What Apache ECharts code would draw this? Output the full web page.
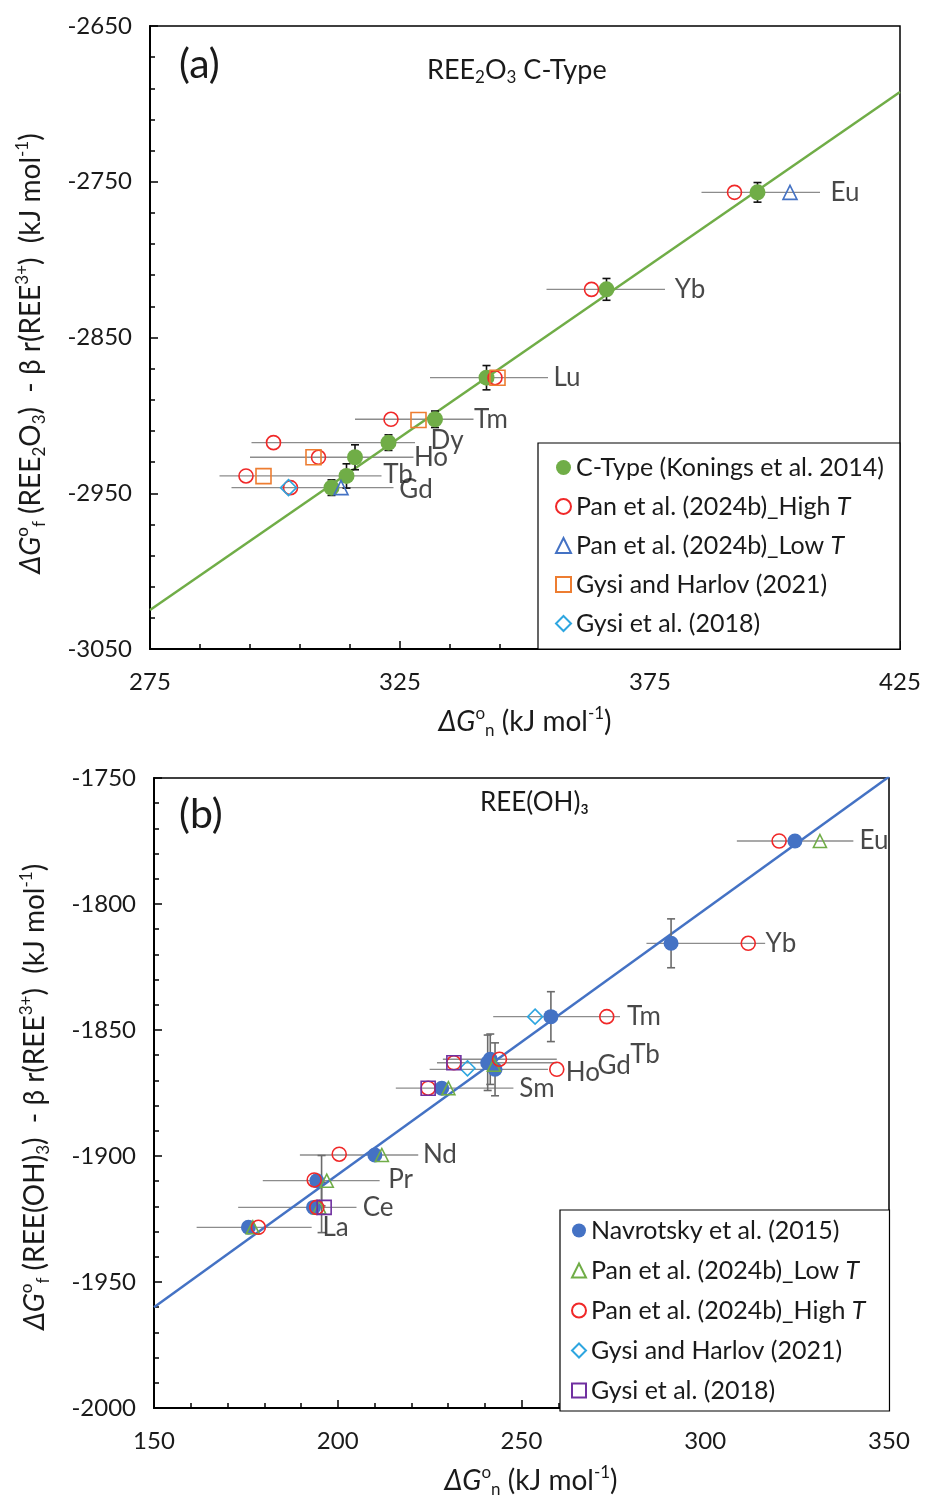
<!DOCTYPE html>
<html><head><meta charset="utf-8">
<script src="https://cdn.jsdelivr.net/npm/echarts@6/dist/echarts.min.js"></script>
<style>html,body{margin:0;padding:0;background:#fff}#c{width:925px;height:1502px}</style>
</head><body><div id="c"></div>
<script>
const FONT = 'Lato';
// ---------- Panel (a): REE2O3 C-Type ----------
const aFitX = [275, 425];
const aFitY = [-3025, -2692.4];
// [x, y] ; order Eu, Yb, Lu, Tm, Dy, Ho, Tb, Gd
const aKonings = [[396.5,-2756.8],[366.3,-2819.1],[342.3,-2875.8],[332,-2902.5],[322.7,-2917.5],[316,-2926.9],[314.3,-2938.9],[311.3,-2946.4]];
const aKoningsErr = [6.3, 7, 7.8, 5.3, 5, 8, 7.8, 5];
const aPanHigh = [[391.9,-2756.8],[363.3,-2819.1],[344,-2875.8],[323.2,-2902.5],[299.7,-2917.5],[308.7,-2926.9],[294.2,-2938.9],[303.1,-2946.4]];
const aPanLow = [[403,-2756.8],[313.2,-2946.4]];
const aGysiHarlov = [[344.5,-2875.8],[328.7,-2903],[307.7,-2926.9],[297.7,-2939]];
const aGysi2018 = [[302.7,-2946.4]];
// horizontal bars [xlow, xhigh, y]
const aXBars = [[385.3,409,-2756.8],[354.3,378,-2819.1],[331,354.6,-2875.8],[316,339.7,-2902.5],[295.3,328,-2917.5],[295,327.7,-2926.9],[288.9,321.3,-2938.9],[291.3,323.7,-2946.4]];
const aLabels = [['Eu',414,-2756.8],['Yb',383,-2819],['Lu',358.4,-2875.8],['Tm',343.2,-2902.5],['Dy',334.4,-2916.5],['Ho',331.2,-2927.4],['Tb',324.6,-2938.3],['Gd',328.2,-2947.9]];

// ---------- Panel (b): REE(OH)3 ----------
const bFitX = [150, 350];
const bFitY = [-1960, -1749.5];
const bNavrotsky = [[324.4,-1775],[290.7,-1815.6],[258,-1844.7],[241.5,-1861.6],[240.8,-1863],[242.8,-1865.6],[228.3,-1873.1],[210.1,-1899.6],[194.3,-1909.8],[193.4,-1920.4],[175.7,-1928.3]];
// vertical error bars [x, y, err]
const bNavErr = [[290.7,-1815.6,9.7],[258,-1844.7,9.9],[241.5,-1861.6,10],[240.8,-1863,11],[242.8,-1865.6,10.5],[195.6,-1909.8,10],[195.6,-1920.4,10]];
const bPanLow = [[331.2,-1775],[242.5,-1863.8],[230.1,-1873.1],[212,-1899.6],[197,-1909.8],[195,-1920.4],[176.9,-1928.3]];
const bPanHigh = [[320.1,-1775],[311.7,-1815.6],[273.2,-1844.7],[244,-1861.6],[231.6,-1863],[259.6,-1865.6],[224.6,-1873.1],[200.4,-1899.3],[193.6,-1909.5],[194.3,-1920.4],[178.4,-1928.3]];
const bGysiHarlov = [[253.7,-1844.7],[235.3,-1865.2]];
const bGysi2018 = [[231.6,-1863],[224.6,-1873.1],[196.3,-1920.4]];
const bXBars = [[308.6,340.3,-1775],[284,316.3,-1815.6],[242.3,276.8,-1844.7],[228.6,259.6,-1861.6],[227,259.6,-1863],[225,257.2,-1865.6],[215.8,247.8,-1873.1],[189.7,221.9,-1899.6],[179.6,211.4,-1909.8],[172.9,205.1,-1920.4],[161.6,192.9,-1928.3]];
const bLabels = [['Eu',345.9,-1775],['Yb',320.6,-1815.6],['Tm',283.3,-1844.7],['Ho',266.7,-1866.8],['Gd',275.2,-1864],['Tb',283.6,-1859.8],['Sm',254.2,-1873.1],['Nd',227.8,-1899.6],['Pr',217.1,-1909.3],['Ce',211,-1920.4],['La',199.4,-1928.6]];

const LEG = {
  aK: 'C-Type (Konings et al. 2014)',
  aPH: 'Pan et al. (2024b)_High {it|T}',
  aPL: 'Pan et al. (2024b)_Low {it|T}',
  aGH: 'Gysi and Harlov (2021)',
  aG18: 'Gysi et al. (2018)',
  bN: 'Navrotsky et al. (2015)',
  bPL: 'Pan et al. (2024b)_Low {it|T}',
  bPH: 'Pan et al. (2024b)_High {it|T}',
  bGH: 'Gysi and Harlov (2021)',
  bG18: 'Gysi et al. (2018)'
};

const TXT = '#1a1a1a';
function pts(name, data, gi, symbol, size, color, filled, z) {
  return {
    name, type: 'scatter', xAxisIndex: gi, yAxisIndex: gi, data, symbol, symbolSize: size, z,
    itemStyle: filled ? {color: color, opacity: 1} : {color: 'rgba(255,255,255,0)', borderColor: color, borderWidth: 1.6, opacity: 1},
    emphasis: {disabled: true}, silent: true
  };
}
function hbars(data, gi, color) {
  return {
    type: 'custom', xAxisIndex: gi, yAxisIndex: gi, data, z: 1, silent: true,
    encode: {x: [0, 1], y: 2},
    renderItem: function (p, api) {
      const a = api.coord([api.value(0), api.value(2)]);
      const b = api.coord([api.value(1), api.value(2)]);
      return {type: 'line', shape: {x1: a[0], y1: a[1], x2: b[0], y2: b[1]}, style: {stroke: color, lineWidth: 1.3}};
    }
  };
}
function vbars(data, gi, color) {
  return {
    type: 'custom', xAxisIndex: gi, yAxisIndex: gi, data, z: 3, silent: true,
    encode: {x: 0, y: 1},
    renderItem: function (p, api) {
      const x = api.value(0), y = api.value(1), e = api.value(2);
      const lo = api.coord([x, y - e]), hi = api.coord([x, y + e]);
      const st = {stroke: color, lineWidth: 1.6};
      return {type: 'group', children: [
        {type: 'line', shape: {x1: lo[0], y1: lo[1], x2: hi[0], y2: hi[1]}, style: st},
        {type: 'line', shape: {x1: lo[0] - 4, y1: lo[1], x2: lo[0] + 4, y2: lo[1]}, style: st},
        {type: 'line', shape: {x1: hi[0] - 4, y1: hi[1], x2: hi[0] + 4, y2: hi[1]}, style: st}
      ]};
    }
  };
}
function labels(arr, gi) {
  return {
    type: 'scatter', xAxisIndex: gi, yAxisIndex: gi, symbolSize: 1, z: 6, silent: true,
    itemStyle: {color: 'rgba(0,0,0,0)'},
    data: arr.map(d => ({name: d[0], value: [d[1], d[2]]})),
    label: {show: true, position: 'inside', formatter: '{b}', fontFamily: FONT, fontSize: 26, color: TXT}
  };
}
function fit(xs, ys, gi, color) {
  return {
    type: 'line', xAxisIndex: gi, yAxisIndex: gi, data: xs.map((x, i) => [x, ys[i]]), symbol: 'none', z: 2, silent: true,
    lineStyle: {color, width: 2.5}
  };
}
const aKErrData = aKonings.map((p, i) => [p[0], p[1], aKoningsErr[i]]);

const richName = {
  i: {fontFamily: FONT, fontSize: 28, fontStyle: 'italic', color: TXT, lineHeight: 34},
  sup: {fontFamily: FONT, fontSize: 17, color: TXT, verticalAlign: 'top', lineHeight: 15},
  sub: {fontFamily: FONT, fontSize: 17, color: TXT, verticalAlign: 'bottom', lineHeight: 13}
};
function nameStyle(pad) {
  return {fontFamily: FONT, fontSize: 28, color: TXT, lineHeight: 34, rich: richName, padding: pad};
}
const numFmt = v => String(v);

function xAx(gi, min, max, interval, pad) {
  return {
    gridIndex: gi, type: 'value', min, max, interval,
    name: '{i|ΔG}{sup|o}{sub|n} (kJ mol{sup|-1})', nameLocation: 'middle', nameGap: 56, nameMoveOverlap: false,
    nameTextStyle: nameStyle(pad),
    axisLine: {show: true, onZero: false, lineStyle: {color: '#000', width: 2}},
    axisTick: {show: true, inside: true, length: 8, lineStyle: {color: '#000', width: 1.5}},
    minorTick: {show: true, splitNumber: 5, length: 5, lineStyle: {color: '#000', width: 1.5}},
    splitLine: {show: false},
    axisLabel: {fontFamily: FONT, fontSize: 24, color: TXT, margin: 21, showMinLabel: true, showMaxLabel: true, formatter: numFmt}
  };
}
function yAx(gi, min, max, interval, name, gap, pad) {
  return {
    gridIndex: gi, type: 'value', min, max, interval,
    name, nameLocation: 'middle', nameGap: gap, nameRotate: 90, nameMoveOverlap: false,
    nameTextStyle: nameStyle(pad),
    axisLine: {show: true, onZero: false, lineStyle: {color: '#000', width: 2}},
    axisTick: {show: true, inside: true, length: 8, lineStyle: {color: '#000', width: 1.5}},
    minorTick: {show: true, splitNumber: 5, length: 5, lineStyle: {color: '#000', width: 1.5}},
    splitLine: {show: false},
    axisLabel: {fontFamily: FONT, fontSize: 24, color: TXT, margin: 18, showMinLabel: true, showMaxLabel: true, formatter: numFmt}
  };
}
const legTxt = {fontFamily: FONT, fontSize: 25, color: TXT, lineHeight: 25,
  rich: {it: {fontFamily: FONT, fontSize: 25, fontStyle: 'italic', color: TXT, lineHeight: 25}}};

const option = {
  animation: false,
  backgroundColor: '#fff',
  textStyle: {fontFamily: FONT},
  title: [
    {text: '(a)', left: 179, top: 44, padding: 0, textStyle: {fontFamily: FONT, fontSize: 41, fontWeight: 'normal', color: TXT}},
    {text: 'REE{s|2}O{s|3} C-Type', left: 427, top: 54, padding: 0, textStyle: {fontFamily: FONT, fontSize: 27, fontWeight: 'normal', color: TXT, lineHeight: 32,
      rich: {s: {fontFamily: FONT, fontSize: 17, color: TXT, verticalAlign: 'bottom', lineHeight: 13}}}},
    {text: '(b)', left: 179, top: 794, padding: 0, textStyle: {fontFamily: FONT, fontSize: 41, fontWeight: 'normal', color: TXT}},
    {text: 'REE(OH)₃', left: 480, top: 790, padding: 0, textStyle: {fontFamily: FONT, fontSize: 26, fontWeight: 'normal', color: TXT}}
  ],
  grid: [
    {left: 150, top: 26, width: 750, height: 623, show: true, borderColor: '#000', borderWidth: 1.5, backgroundColor: 'transparent', containLabel: false, outerBoundsMode: 'none'},
    {left: 154, top: 778, width: 735, height: 630, show: true, borderColor: '#000', borderWidth: 1.5, backgroundColor: 'transparent', containLabel: false, outerBoundsMode: 'none'}
  ],
  xAxis: [xAx(0, 275, 425, 50, [0, 0, 0, 0]), xAx(1, 150, 350, 50, [0, 0, 0, 19])],
  yAxis: [
    yAx(0, -3050, -2650, 100, '{i|ΔG}{sup|o}{sub|f} (REE{sub|2}O{sub|3})  - β r(REE{sup|3+})  (kJ mol{sup|-1})', 102, [0, 32, 0, 0]),
    yAx(1, -2000, -1750, 50, '{i|ΔG}{sup|o}{sub|f} (REE(OH){sub|3})  - β r(REE{sup|3+})  (kJ mol{sup|-1})', 102, [0, 8, 0, 0])
  ],
  legend: [
    {data: ['aK', 'aPH', 'aPL', 'aGH', 'aG18'], orient: 'vertical', left: 538, top: 443,
      padding: [12, 16, 13, 17], itemGap: 14, itemWidth: 15, itemHeight: 15, selectedMode: false,
      backgroundColor: '#fff', borderColor: '#000', borderWidth: 1.2, borderRadius: 0,
      formatter: n => LEG[n], textStyle: legTxt},
    {data: ['bN', 'bPL', 'bPH', 'bGH', 'bG18'], orient: 'vertical', left: 560, top: 1210,
      padding: [8, 24, 8, 11], itemGap: 15, itemWidth: 14, itemHeight: 14, selectedMode: false,
      backgroundColor: '#fff', borderColor: '#000', borderWidth: 1.2, borderRadius: 0,
      formatter: n => LEG[n], textStyle: legTxt}
  ],
  series: [
    hbars(aXBars, 0, '#8c8c8c'),
    fit(aFitX, aFitY, 0, '#70AD47'),
    vbars(aKErrData, 0, '#111'),
    pts('aK', aKonings, 0, 'circle', 16, '#70AD47', true, 4),
    pts('aPH', aPanHigh, 0, 'circle', 14, '#F02828', false, 5),
    pts('aPL', aPanLow, 0, 'triangle', 14, '#4472C4', false, 5),
    pts('aGH', aGysiHarlov, 0, 'rect', 15, '#ED7D31', false, 5),
    pts('aG18', aGysi2018, 0, 'diamond', 16, '#2EA6E0', false, 5),
    labels(aLabels, 0),

    hbars(bXBars, 1, '#8c8c8c'),
    fit(bFitX, bFitY, 1, '#4472C4'),
    vbars(bNavErr, 1, '#6b6b6b'),
    pts('bN', bNavrotsky, 1, 'circle', 15, '#4472C4', true, 4),
    pts('bPL', bPanLow, 1, 'triangle', 13, '#70AD47', false, 5),
    pts('bPH', bPanHigh, 1, 'circle', 14, '#F02828', false, 5),
    pts('bGH', bGysiHarlov, 1, 'diamond', 15, '#2EA6E0', false, 5),
    pts('bG18', bGysi2018, 1, 'rect', 14, '#7030A0', false, 5),
    labels(bLabels, 1)
  ]
};
const chart = echarts.init(document.getElementById('c'), null, {renderer: 'canvas'});
chart.setOption(option);
</script></body></html>
